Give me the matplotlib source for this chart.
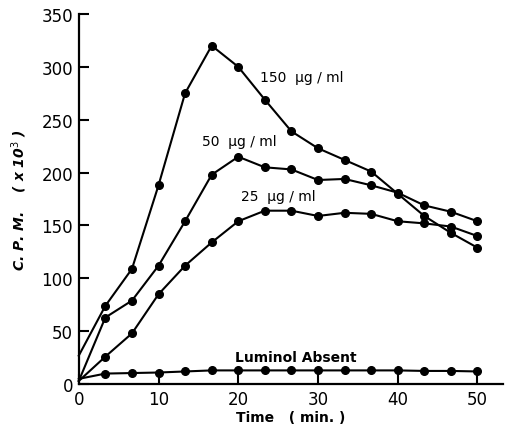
import matplotlib
matplotlib.use('Agg')
import matplotlib.pyplot as plt

# Time points (min.)
time = [0, 3.33, 6.67, 10, 13.33, 16.67, 20, 23.33, 26.67, 30, 33.33, 36.67, 40, 43.33, 46.67, 50]

# C.P.M. (x 10^3) for each luminol concentration
cpm_150 = [27, 74, 109, 188, 275, 320, 300, 269, 239, 223, 212, 201, 180, 159, 143, 129]
cpm_50 = [3, 63, 79, 112, 154, 198, 215, 205, 203, 193, 194, 188, 181, 169, 163, 154]
cpm_25 = [3, 26, 48, 85, 112, 134, 154, 164, 164, 159, 162, 161, 154, 152, 149, 140]
cpm_absent = [5, 10, 10.5, 11, 12, 13, 13, 13, 13, 13, 13, 13, 13, 12.5, 12.5, 12]

labels = ['150  µg / ml', '50  µg / ml', '25  µg / ml', 'Luminol Absent']
label_pos = [(22.7, 290), (15.5, 230), (20.4, 178), (19.6, 26)]
label_weight = ['medium', 'medium', 'medium', 'bold']

xticks = [0, 10, 20, 30, 40, 50]
yticks = [0, 50, 100, 150, 200, 250, 300, 350]

fig = plt.figure(figsize=(5.05, 4.27), dpi=100)
ax = fig.add_axes([0.156, 0.098, 0.84, 0.867])

for series in [cpm_150, cpm_50, cpm_25, cpm_absent]:
    ax.plot(time, series, color='black', linewidth=1.5, marker='o',
            markersize=5.5, markevery=list(range(1, len(time))), clip_on=False)

for text, (x, y), w in zip(labels, label_pos, label_weight):
    ax.text(x, y, text, fontsize=10, fontweight=w, va='center', ha='left')

ax.set_xlim(0, 53.2)
ax.set_ylim(0, 350)
ax.set_xticks(xticks)
ax.set_yticks(yticks)
ax.set_xticklabels([str(v) for v in xticks], fontsize=12)
ax.set_yticklabels([str(v) for v in yticks], fontsize=12)
ax.tick_params(axis='both', direction='in', length=7, width=1.5, color='black', pad=4)

ax.spines['top'].set_visible(False)
ax.spines['right'].set_visible(False)
ax.spines['left'].set_linewidth(1.6)
ax.spines['bottom'].set_linewidth(1.6)

ax.set_xlabel('Time   ( min. )', fontsize=10, fontweight='bold', labelpad=2)
ax.set_ylabel(r'C. P. M.    ( x 10$^{3}$ )', fontsize=10, fontweight='bold',
              fontstyle='italic', labelpad=9)

plt.savefig('out.png', dpi=100)
